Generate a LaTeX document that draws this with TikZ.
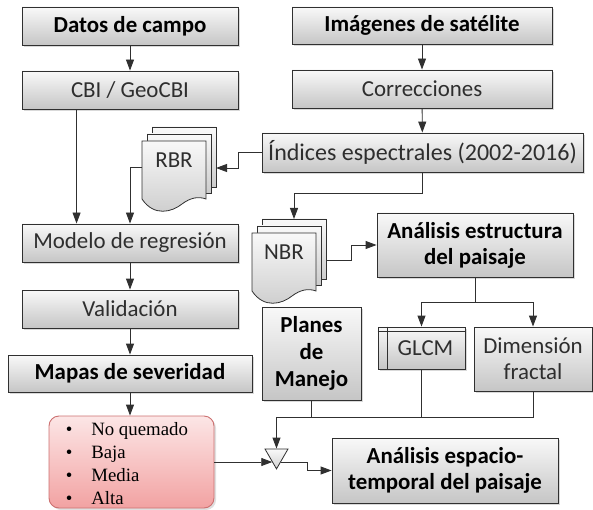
\documentclass[tikz,border=0pt]{standalone}
\usepackage{fontspec}
\setmainfont{Carlito}
\newfontfamily\bulletfont{Liberation Serif}
\usetikzlibrary{arrows.meta,shapes.geometric,shadows,calc}
\definecolor{txt}{HTML}{2E2E2E}
\definecolor{lncol}{HTML}{303030}
\definecolor{redtop}{HTML}{FCE6E6}
\definecolor{redbot}{HTML}{F2A2A2}
\definecolor{redline}{HTML}{CC7070}
\tikzset{
  box/.style={draw=lncol, line width=0.9pt, top color=gray!5, bottom color=gray!45,
    drop shadow={shadow xshift=2pt,shadow yshift=-2pt,opacity=0.3},
    inner sep=2pt, align=center, font=\fontsize{22.9}{26}\selectfont, text=txt},
  bbox/.style={box, font=\fontsize{22.9}{26}\selectfont\bfseries, text=black},
  conn/.style={draw=lncol, line width=0.9pt},
  arr/.style={conn, -{Triangle[length=11pt,width=8pt]}},
  page/.style={draw=lncol, line width=0.8pt, top color=gray!5, bottom color=gray!40},
  redbox/.style={draw=redline, line width=0.9pt, rounded corners=10pt, top color=redtop, bottom color=redbot,
    drop shadow={shadow xshift=2pt,shadow yshift=-2pt,opacity=0.25}},
  tri/.style={regular polygon, regular polygon sides=3, shape border rotate=180, minimum size=26.6pt,
    inner sep=0pt, draw=lncol, line width=0.8pt, top color=gray!5, bottom color=gray!35},
  pics/docstack/.style={code={
    \path[page] (10,-14) rectangle (74,46);
    \path[page] (5,-7) rectangle (69,52);
    \path[page] (0,0) -- (64,0) -- (64,58) .. controls (56,55) and (48,57) .. (40,63)
       .. controls (30,71) and (12,76) .. (0,58) -- cycle;
    \node[font=\fontsize{22.9}{26}\selectfont, text=txt] (-label) at (32,19) {#1};
    \coordinate (-east) at (74,27);
    \coordinate (-west) at (0,26);
    \coordinate (-north) at (42,-14);
  }}
}
\begin{document}
\begin{tikzpicture}[x=1pt,y=-1pt]
\useasboundingbox (0,0) rectangle (593,510);

% left column
\node[bbox, minimum width=216pt, minimum height=38pt] (datos) at (130,26) {Datos de campo};
\node[box, minimum width=216pt, minimum height=38pt] (cbi) at (130,90) {CBI / GeoCBI};
\node[box, minimum width=216pt, minimum height=38pt] (modelo) at (130,243) {Modelo de regresión};
\node[box, minimum width=216pt, minimum height=38pt] (valid) at (130,309) {Validación};
\node[bbox, minimum width=244pt, minimum height=37pt] (mapas) at (130,373.5) {Mapas de severidad};
\node[redbox, minimum width=165pt, minimum height=92pt] (sev) at (131.5,462) {};
\node[anchor=west, inner sep=0pt, font=\bulletfont\fontsize{18.8}{23}\selectfont] (sevtext) at ($(sev.west)+(17,3)$)
  {\begin{tabular}{@{}l@{\hspace{19pt}}l@{}}
   • & No quemado\\ • & Baja\\ • & Media\\ • & Alta
   \end{tabular}};

% right column
\node[bbox, minimum width=260pt, minimum height=37pt] (imag) at (422,25.5) {Imágenes de satélite};
\node[box, minimum width=260pt, minimum height=38pt] (corr) at (422,89) {Correcciones};
\node[box, minimum width=321pt, minimum height=39pt, font=\fontsize{24}{26}\selectfont] (indices) at (422.5,152.5) {Índices espectrales (2002-2016)};
\node[bbox, minimum width=196pt, minimum height=64pt] (estruct) at (475,245) {Análisis estructura\\del paisaje};
\node[bbox, minimum width=99pt, minimum height=93pt, font=\fontsize{22.9}{27}\selectfont\bfseries] (planes) at (311.5,353.5) {Planes\\de\\Manejo};
\node[box, minimum width=87pt, minimum height=42pt] (glcm) at (421.5,348) {\hspace*{8pt}GLCM};
\node[box, minimum width=118pt, minimum height=64pt] (dim) at (533,359) {Dimensión\\fractal};
\node[bbox, minimum width=226pt, minimum height=65pt] (esp) at (445,470.5) {Análisis espacio-\\temporal del paisaje};
\node[tri] (tri) at (276.5,455.6) {};

% internal storage lines of GLCM
\draw[conn, line width=0.8pt] ($(glcm.north west)+(10,0)$) -- ($(glcm.south west)+(10,0)$);
\draw[conn, line width=0.8pt] ($(glcm.north west)+(0,5)$) -- ($(glcm.north east)+(0,5)$);

% document stacks
\pic (rbr) at (142,141) {docstack=RBR};
\pic (nbr) at (252,233) {docstack=NBR};

% connectors
\draw[arr] (datos) -- (cbi);
\draw[arr] (imag) -- (corr);
\draw[arr] (corr) -- (indices);
\draw[arr] ($(cbi.south west)+(55,0)$) -- ($(modelo.north west)+(55,0)$);
\draw[arr] (indices.west) -- ++(-23,0) |- (rbr-east);
\draw[arr] (rbr-west) -| (modelo.north);
\draw[arr] (modelo) -- (valid);
\draw[arr] (valid) -- (mapas);
\draw[arr] (mapas.south) -- (mapas.south |- sev.north);
\draw[arr] (indices.south) -- ++(0,21) -| (nbr-north);
\draw[arr] (nbr-east) -- ++(25,0) |- (estruct.west);

\coordinate (sbar) at (0,302);
\draw[conn] (estruct.south) -- (estruct.south |- sbar);
\draw[arr] (estruct.south |- sbar) -| (glcm.north);
\draw[arr] (estruct.south |- sbar) -| (dim.north);

\coordinate (hbar) at (0,417);
\draw[conn] (dim.south) |- (tri.north |- hbar);
\draw[conn] (glcm.south) -- (glcm.south |- hbar);
\draw[conn] (planes.south) -- (planes.south |- hbar);
\draw[arr] (tri.north |- hbar) -- (tri.north);

\draw[arr] (sev.east) -- (sev.east -| tri.238);
\draw[arr] (sev.east -| tri.302) -| ($(esp.west)+(-24,0)$) -- (esp.west);
\end{tikzpicture}
\end{document}
